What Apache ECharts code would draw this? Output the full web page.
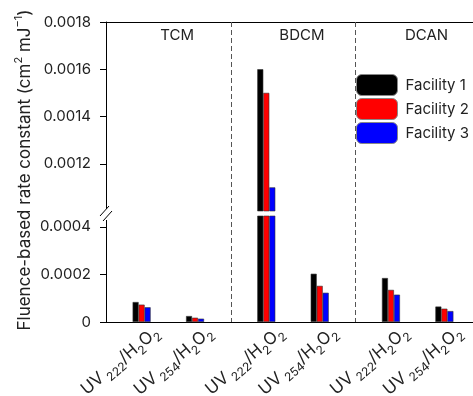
<!DOCTYPE html>
<html>
<head>
<meta charset="utf-8">
<script src="https://cdn.jsdelivr.net/npm/echarts@6/dist/echarts.min.js"></script>
<style>html,body{margin:0;padding:0;background:#fff}#c{width:473px;height:396px}</style>
</head>
<body>
<div id="c"></div>
<script>
// ---- data ----
const compounds = ['TCM', 'BDCM', 'DCAN'];
const wavelengths = ['222', '254'];
const facilityNames = ['Facility 1', 'Facility 2', 'Facility 3'];
const facility1 = [0.000084, 0.000025, 0.00160, 0.000203, 0.000185, 0.000065];
const facility2 = [0.000073, 0.000018, 0.00150, 0.000152, 0.000135, 0.000056];
const facility3 = [0.000062, 0.000014, 0.00110, 0.000123, 0.000115, 0.000046];
const upperTicks = [0.0012, 0.0014, 0.0016, 0.0018];
const lowerTicks = [0, 0.0002, 0.0004];
const colors = ['#000000', '#ff0000', '#0000ff'];

// ---- layout (slots on a category axis) ----
const N = 22;
const slots = [2, 5, 9, 12, 16, 19];
const FONT = 'Inter';
const slotLabels = new Array(N).fill('');
const slotNames = [];
for (let i = 0; i < N; i++) slotNames.push('s' + i);
slots.forEach((s, k) => {
  const w = wavelengths[k % 2];
  slotLabels[s] = '{n|UV}{w|' + w + '}{n|/H}{s|2}{n|O}{s|2}';
});
function spread(arr) {
  const out = new Array(N).fill('-');
  slots.forEach((s, k) => { out[s] = arr[k]; });
  return out;
}
const facilityData = [facility1, facility2, facility3].map(spread);

const chart = echarts.init(document.getElementById('c'), null, {renderer: 'canvas'});
const gridL = 106, gridW = 374;
const tickText = {fontFamily: FONT, fontSize: 15, color: '#222'};
function fmt(v) { return v === 0 ? '0' : v.toFixed(4); }

const series = [];
[0, 1].forEach(g => {
  facilityData.forEach((d, k) => {
    series.push({
      type: 'bar', name: facilityNames[k], xAxisIndex: g, yAxisIndex: g,
      data: d, barWidth: 6, barGap: '0%', clip: true,
      itemStyle: {color: colors[k], borderColor: '#333', borderWidth: 0.6},
      emphasis: {disabled: true}, animation: false
    });
  });
});

chart.setOption({
  animation: false,
  textStyle: {fontFamily: FONT},
  grid: [
    {left: gridL, top: 22, width: gridW, height: 189, outerBoundsMode: 'none', containLabel: false},
    {left: gridL, top: 216, width: gridW, height: 106, outerBoundsMode: 'none', containLabel: false}
  ],
  legend: {
    orient: 'vertical', left: 356, top: 74, padding: 0, itemWidth: 41, itemHeight: 21, itemGap: 2,
    data: facilityNames, selectedMode: false,
    textStyle: {fontFamily: FONT, fontSize: 15, color: '#222', padding: [0, 0, 0, 3]},
    itemStyle: {borderColor: '#888', borderWidth: 1}
  },
  xAxis: [
    {type: 'category', gridIndex: 0, data: slotNames, boundaryGap: false, position: 'top',
     axisLine: {lineStyle: {color: '#000', width: 1}}, axisTick: {show: false}, axisLabel: {show: false}},
    {type: 'category', gridIndex: 1, data: slotNames, boundaryGap: false,
     axisLine: {lineStyle: {color: '#000', width: 1}}, axisTick: {show: false},
     axisLabel: {
       interval: 0, rotate: 40, margin: -10, align: 'right', verticalAlign: 'top',
       padding: [15, 0, 0, 0],
       formatter: (v, i) => slotLabels[i],
       rich: {
         n: {fontFamily: FONT, fontSize: 17, color: '#222', lineHeight: 18, verticalAlign: 'top'},
         w: {fontFamily: FONT, fontSize: 12, color: '#222', lineHeight: 12, padding: [12, 0, 0, 3]},
         s: {fontFamily: FONT, fontSize: 12, color: '#222', lineHeight: 12, padding: [12, 0, 0, 0]}
       }
     }}
  ],
  yAxis: [
    {type: 'value', gridIndex: 0, min: 0.001, max: 0.0018, interval: 0.0002,
     splitLine: {show: false},
     axisLine: {show: true, lineStyle: {color: '#000'}},
     axisTick: {show: true, length: 6, customValues: upperTicks, lineStyle: {color: '#000'}},
     axisLabel: Object.assign({customValues: upperTicks, margin: 15, formatter: fmt}, tickText)},
    {type: 'value', gridIndex: 1, min: 0, max: 0.000446, interval: 0.0002,
     splitLine: {show: false},
     axisLine: {show: true, lineStyle: {color: '#000'}},
     axisTick: {show: true, length: 6, customValues: lowerTicks, lineStyle: {color: '#000'}},
     axisLabel: Object.assign({customValues: lowerTicks, margin: 15, formatter: fmt}, tickText)}
  ],
  series: series
});

// ---- decorations positioned from the axes ----
const yTop = chart.convertToPixel({gridIndex: 0}, [0, 0.0018])[1];
const yBottom = chart.convertToPixel({gridIndex: 1}, [0, 0])[1];
const graphics = [];
[(slots[1] + slots[2]) / 2, (slots[3] + slots[4]) / 2 - 0.1].forEach(s => {
  const x = Math.round(chart.convertToPixel({xAxisIndex: 1}, s)) + 0.5;
  graphics.push({type: 'line', shape: {x1: x, y1: yTop, x2: x, y2: yBottom},
    style: {stroke: '#555', lineWidth: 1, lineDash: [5, 3]}, z: 1});
});
compounds.forEach((c, k) => {
  const x = chart.convertToPixel({xAxisIndex: 1}, (slots[2 * k] + slots[2 * k + 1]) / 2 + (k === 0 ? 0.15 : 0));
  graphics.push({type: 'text', x: x, y: yTop + 13,
    style: {text: c, fontFamily: FONT, fontSize: 15, fill: '#222', align: 'center', verticalAlign: 'middle'}});
});
// axis break
graphics.push({type: 'rect', shape: {x: gridL - 2, y: 209, width: 4, height: 11}, style: {fill: '#fff'}, z: 10});
graphics.push({type: 'line', shape: {x1: 100, y1: 216, x2: 109, y2: 206}, style: {stroke: '#000', lineWidth: 1}, z: 11});
graphics.push({type: 'line', shape: {x1: 103, y1: 221, x2: 112, y2: 211}, style: {stroke: '#000', lineWidth: 1}, z: 11});
// y-axis title
graphics.push({type: 'text', x: 23, y: 170, rotation: Math.PI / 2,
  style: {text: '{n|Fluence-based rate constant (cm}{p|2}{n| mJ}{p|−1}{n|)}',
    align: 'center', verticalAlign: 'middle',
    rich: {n: {fontFamily: FONT, fontSize: 17, fill: '#222', lineHeight: 20, verticalAlign: 'bottom'},
           p: {fontFamily: FONT, fontSize: 11, fill: '#222', lineHeight: 12, verticalAlign: 'top'}}}});
chart.setOption({graphic: graphics});
</script>
</body>
</html>
